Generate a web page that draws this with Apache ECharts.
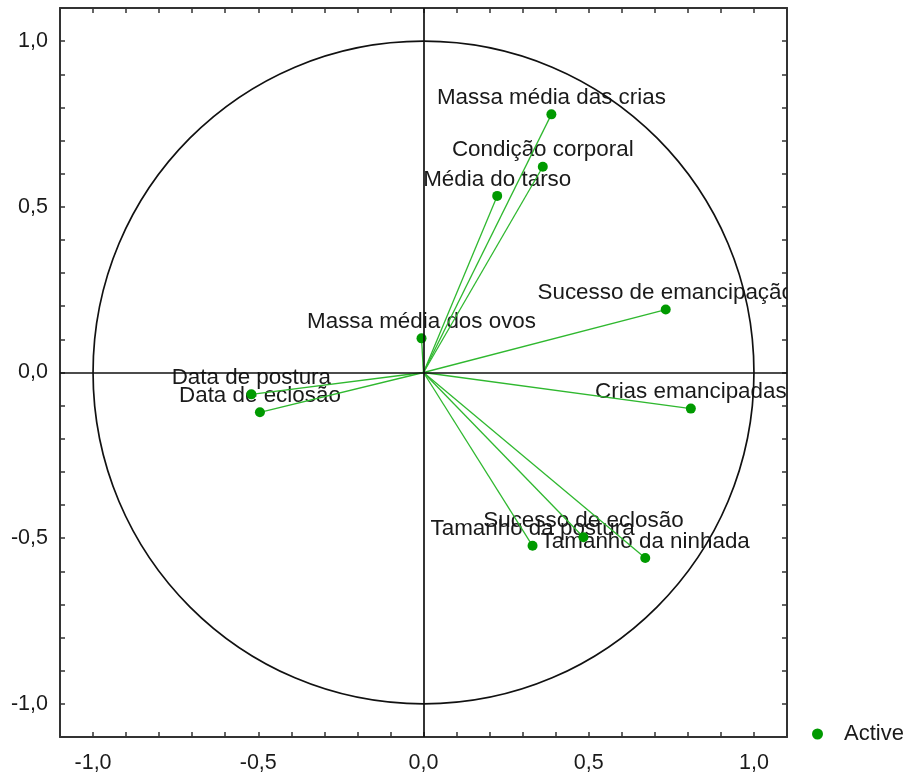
<!DOCTYPE html>
<html>
<head>
<meta charset="utf-8">
<script src="https://cdn.jsdelivr.net/npm/echarts@6/dist/echarts.min.js"></script>
<style>html,body{margin:0;padding:0;background:#fff}#c{width:911px;height:776px}</style>
</head>
<body>
<div id="c"></div>
<script>
const names = ["Massa média das crias","Condição corporal","Média do tarso","Massa média dos ovos","Sucesso de emancipação","Crias emancipadas","Data de postura","Data de eclosão","Tamanho da postura","Sucesso de eclosão","Tamanho da ninhada"];
const xVals = [0.387, 0.361, 0.223, -0.006, 0.733, 0.809, -0.521, -0.495, 0.330, 0.484, 0.671];
const yVals = [0.779, 0.621, 0.533, 0.103, 0.190, -0.109, -0.066, -0.120, -0.523, -0.497, -0.560];
const axisMin = -1.1, axisMax = 1.1, tickStep = 0.1;

const pts = names.map((n, i) => [xVals[i], yVals[i], n]);
const FONT = '"Liberation Sans", Arial, sans-serif';
const fmt = v => { const r = Math.round(v * 10); if (r % 5 !== 0) return ''; return (r / 10).toFixed(1).replace('.', ','); };
const axisLine = { show: true, onZero: false, lineStyle: { color: '#333', width: 2 } };
const axisTick = { show: true, inside: true, length: 5, lineStyle: { color: '#333', width: 1.5 } };
function mkAxis(pos, showLabel, margin) {
  return {
    type: 'value', position: pos, min: axisMin, max: axisMax, interval: tickStep,
    axisLine, axisTick, splitLine: { show: false },
    axisLabel: { show: showLabel, formatter: fmt, fontSize: 21.5, color: '#1a1a1a', fontFamily: FONT, margin: margin }
  };
}
const chart = echarts.init(document.getElementById('c'), null, { renderer: 'canvas' });
chart.setOption({
  animation: false,
  backgroundColor: '#fff',
  grid: { left: 60, right: 124, top: 8, bottom: 39, outerBoundsMode: 'none', containLabel: false },
  xAxis: [mkAxis('bottom', true, 15), mkAxis('top', false, 8)],
  yAxis: [mkAxis('left', true, 12), mkAxis('right', false, 8)],
  legend: {
    data: [{ name: 'Active', icon: 'circle' }], left: 807, top: 718, itemWidth: 11, itemHeight: 11, itemGap: 10,
    textStyle: { fontSize: 22, color: '#1a1a1a', fontFamily: FONT, padding: [0, 0, 0, 16] }
  },
  series: [
    {
      type: 'custom', name: 'labels', clip: true, z: 1, silent: true,
      data: pts,
      renderItem: (params, api) => {
        const p = api.coord([api.value(0), api.value(1)]);
        return { type: 'text', x: p[0], y: p[1] - 16.5,
          style: { text: names[params.dataIndex], fill: '#1a1a1a', font: '22.4px ' + FONT, align: 'center', verticalAlign: 'middle' } };
      }
    },
    {
      type: 'custom', name: 'circle', clip: true, z: 2, silent: true,
      data: [[0, 0]],
      renderItem: (params, api) => {
        const c = api.coord([api.value(0), api.value(1)]);
        const s = api.size([1, 1]);
        return { type: 'ellipse', shape: { cx: c[0], cy: c[1], rx: s[0], ry: s[1] },
          style: { fill: 'none', stroke: '#111', lineWidth: 1.7 } };
      }
    },
    {
      type: 'custom', name: 'vectors', clip: true, z: 3, silent: true,
      data: pts,
      renderItem: (params, api) => {
        const o = api.coord([0, 0]);
        const p = api.coord([api.value(0), api.value(1)]);
        return { type: 'line', shape: { x1: o[0], y1: o[1], x2: p[0], y2: p[1] },
          style: { stroke: '#2fb82f', lineWidth: 1.3 } };
      }
    },
    {
      type: 'scatter', name: 'Active', z: 4, symbol: 'circle', symbolSize: 10,
      itemStyle: { color: '#009a00', opacity: 1 },
      data: pts,
      markLine: {
        silent: true, symbol: 'none', animation: false,
        label: { show: false },
        lineStyle: { color: '#111', width: 1.7, type: 'solid' },
        emphasis: { disabled: true },
        data: [{ xAxis: 0 }, { yAxis: 0 }]
      }
    }
  ]
});
</script>
</body>
</html>
